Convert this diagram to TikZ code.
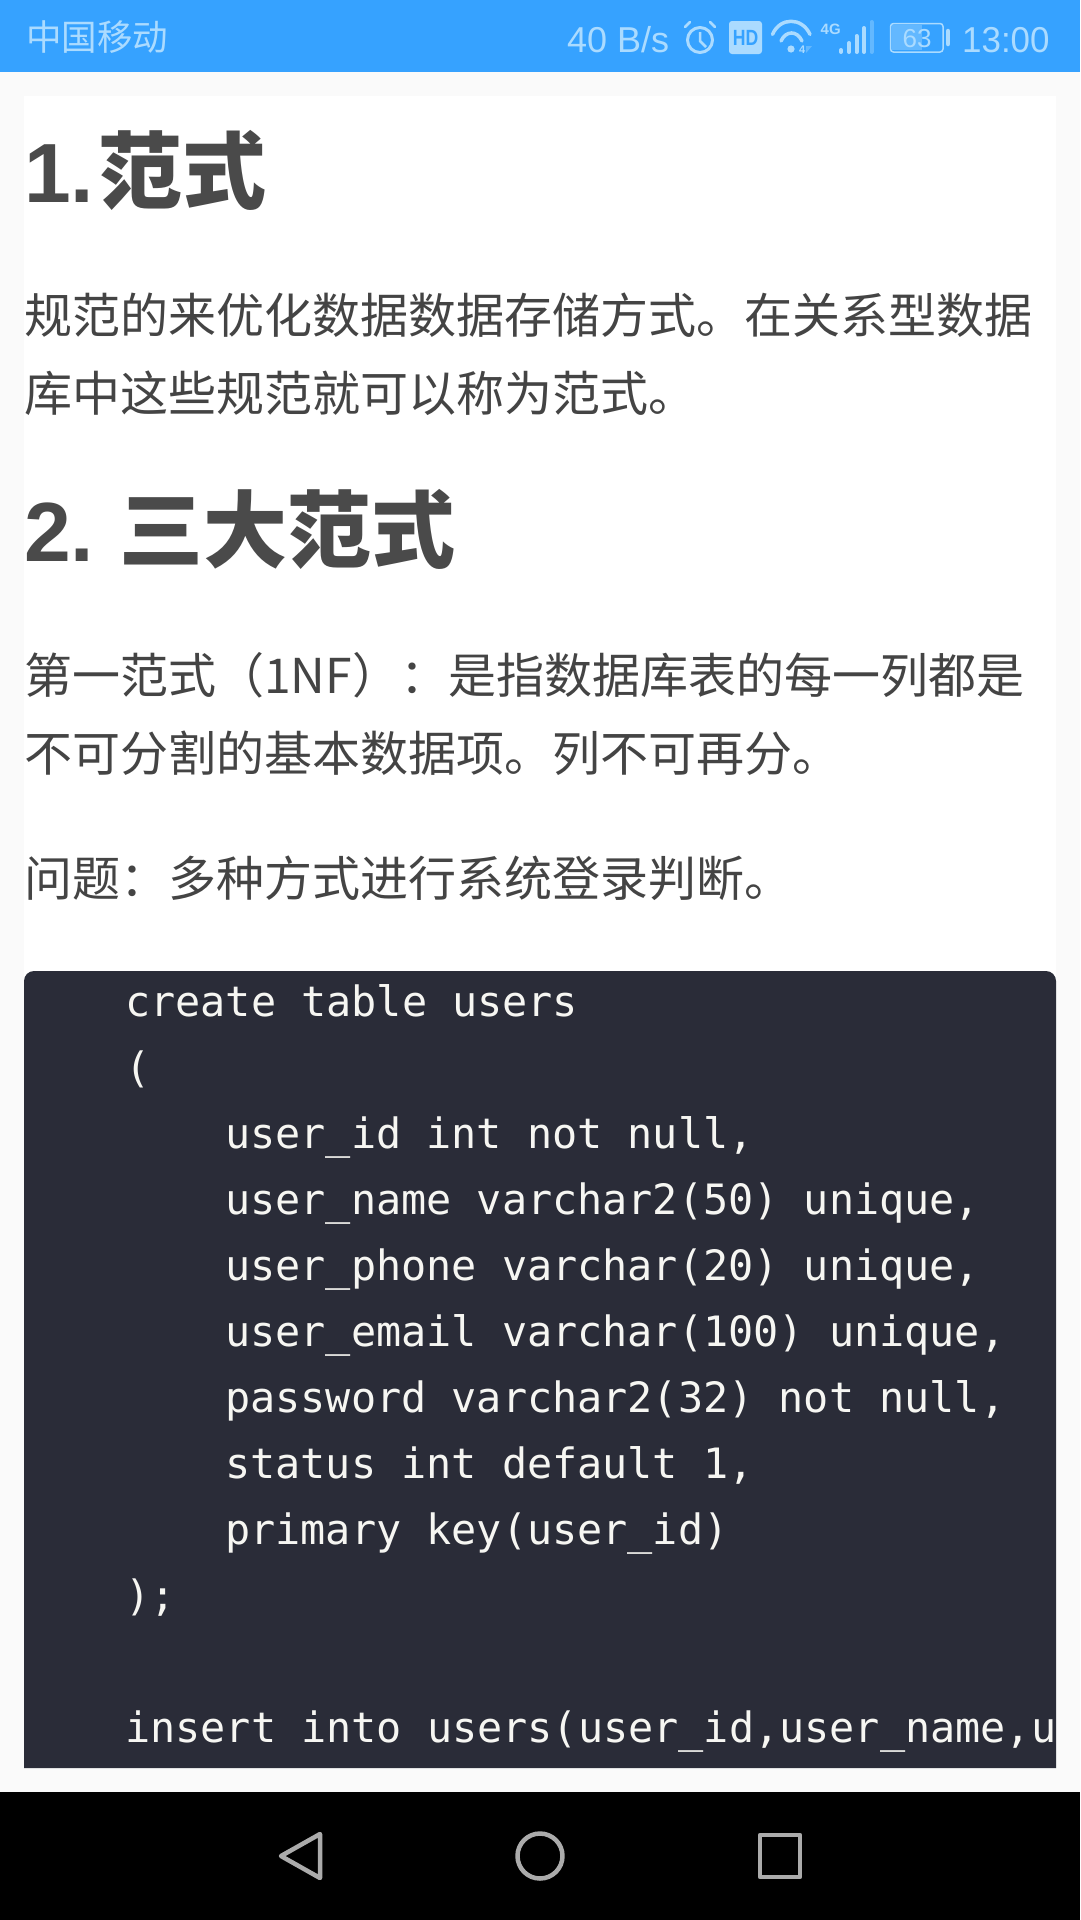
\documentclass[tikz,border=0pt]{standalone}
\usepackage{fontspec}
\usepackage{xcolor}
\setmainfont{Liberation Sans}
\newfontfamily\cjk{Noto Sans CJK SC}
\newfontfamily\codefont{DejaVu Sans Mono}
\definecolor{barblue}{HTML}{36A2FF}
\definecolor{barfg}{HTML}{ABDBFF}
\definecolor{barfaint}{HTML}{63B8FF}
\definecolor{pagebg}{HTML}{FAFAFA}
\definecolor{codebg}{HTML}{2A2C38}
\definecolor{codefg}{HTML}{F6F6F2}
\definecolor{bodytext}{HTML}{444444}
\definecolor{headtext}{HTML}{4A4A4A}
\definecolor{navgrey}{HTML}{ABABAB}

\begin{document}
\begin{tikzpicture}[x=1pt, y=-1pt,
    every node/.style={inner sep=0pt, anchor=base west},
    heading/.style={font=\bfseries\fontsize{84}{90}\selectfont, text=headtext},
    bodyline/.style={font=\cjk\fontsize{48}{58}\selectfont, text=bodytext},
    codeline/.style={font=\codefont\fontsize{41.8}{50}\selectfont, text=codefg},
    status/.style={font=\fontsize{36}{40}\selectfont, text=barfg},
    navicon/.style={draw=navgrey, line width=4.5pt, line join=round}]
    \useasboundingbox (0,0) rectangle (1080,1920);

    % Page and panels
    \fill[pagebg] (0,0) rectangle (1080,1920);
    \fill[white] (24,96) rectangle (1056,980);
    \fill[barblue] (0,0) rectangle (1080,72);
    \fill[black] (0,1792) rectangle (1080,1920);
    \fill[codebg] (24,1768) [rounded corners=10pt] -- (24,971) -- (1056,971) -- (1056,1000) [sharp corners] -- (1056,1768) -- cycle;

    % Status bar, left
    \node[status, font=\cjk\fontsize{35.5}{40}\selectfont] (carrier) at (26,50) {中国移动};

    % Status bar, right
    \node[status] (speed) at (567,52) {40 B/s};
    \draw[barfg, line width=3pt] (700,40) circle (12.5);
    \draw[barfg, line width=2.5pt, line cap=round] (685,27) -- (690,22);
    \draw[barfg, line width=2.5pt, line cap=round] (715,27) -- (710,22);
    \draw[barfg, line width=2.5pt] (700,32) -- (700,41) -- (706,47);

    \fill[barfg, rounded corners=3pt] (729,21) rectangle (762,54);
    \node[anchor=center, xscale=.8, font=\bfseries\fontsize{22}{24}\selectfont, text=barblue] (hd) at (745.5,38) {HD};

    \draw[barfg, line width=3.5pt, line cap=round] (772.5,34.4) .. controls (780,16.9) and (802,16.9) .. (810,34.4);
    \draw[barfg, line width=3.5pt, line cap=round] (781,41) .. controls (786,30.3) and (797,30.3) .. (802,41);
    \fill[barfg] (791,49) circle (3.6);
    \node[font=\bfseries\fontsize{11}{12}\selectfont, text=barfg] (wifidown) at (799,53) {4};
    \fill[barfaint] (806,46) -- (812,46) -- (806,53) -- cycle;

    \node[font=\bfseries\fontsize{15}{16}\selectfont, text=barfg] (network) at (820.5,34) {4G};
    \draw[barfg, line width=4pt, line cap=round] (841,50) -- (841,52);
    \draw[barfg, line width=4pt, line cap=round] (849,43) -- (849,52);
    \draw[barfg, line width=4pt, line cap=round] (856.5,36) -- (856.5,52);
    \draw[barfg, line width=4pt, line cap=round] (864,28) -- (864,52);
    \draw[barfaint, line width=4pt, line cap=round] (871.5,22) -- (871.5,52);

    \fill[barfaint] (892,25) rectangle (922,50);
    \draw[barfg, line width=1.5pt, rounded corners=3pt] (890.5,23.5) rectangle (943,52);
    \node[anchor=center, font=\fontsize{26}{28}\selectfont, text=barfg] (battery) at (917,38.5) {63};
    \draw[barfg, line width=4.5pt, line cap=round] (948,31) -- (948,44);

    \node[status, xscale=.97] (clock) at (962,52) {13:00};

    % Article text
    \node[heading] (title) at (24,202) {1.\hspace{4pt}{\cjk 范式}};
    \node[bodyline] (introa) at (24,333) {规范的来优化数据数据存储方式。在关系型数据};
    \node[bodyline] (introb) at (24,411) {库中这些规范就可以称为范式。};
    \node[heading] (subtitle) at (24,561) {2.\hspace{25.5pt}{\cjk 三大范式}};
    \node[bodyline] (nfa) at (24,693) {第一范式（1NF）：是指数据库表的每一列都是};
    \node[bodyline] (nfb) at (24,771) {不可分割的基本数据项。列不可再分。};
    \node[bodyline] (issue) at (24,896) {问题：多种方式进行系统登录判断。};

    % Code block
    \node[codeline] (cola) at (125,1016) {create table users};
    \node[codeline] (colb) at (125,1082) {(};
    \node[codeline] (colc) at (225,1148) {user\_id int not null,};
    \node[codeline] (cold) at (225,1214) {user\_name varchar2(50) unique,};
    \node[codeline] (cole) at (225,1280) {user\_phone varchar(20) unique,};
    \node[codeline] (colf) at (225,1346) {user\_email varchar(100) unique,};
    \node[codeline] (colg) at (225,1412) {password varchar2(32) not null,};
    \node[codeline] (colh) at (225,1478) {status int default 1,};
    \node[codeline] (coli) at (225,1544) {primary key(user\_id)};
    \node[codeline] (colj) at (125,1610) {);};
    \node[codeline] (colk) at (125,1742) {insert into users(user\_id,user\_name,u};

    % Navigation bar
    \draw[navicon] (320,1834) -- (281,1856) -- (320,1878) -- cycle;
    \draw[navicon] (540,1856) circle (22.5);
    \draw[navicon] (760,1835) rectangle (800,1877);
\end{tikzpicture}
\end{document}
